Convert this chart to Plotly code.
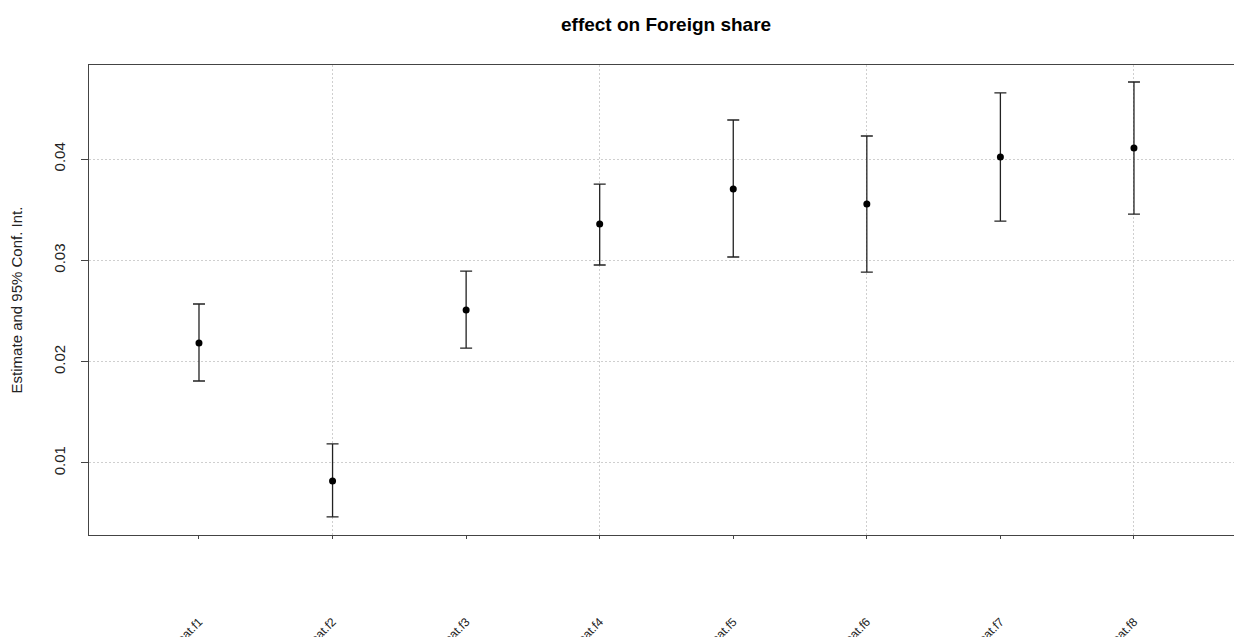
import plotly.graph_objects as go

# ---- data ----
categories = ["treat.f1", "treat.f2", "treat.f3", "treat.f4",
              "treat.f5", "treat.f6", "treat.f7", "treat.f8"]
positions = [1, 2, 3, 4, 5, 6, 7, 8]
estimates = [0.02184, 0.00822, 0.02509, 0.03358, 0.03704, 0.03556, 0.04020, 0.04109]
upper_ci = [0.02569, 0.01188, 0.02894, 0.03753, 0.04385, 0.04227, 0.04652, 0.04760]
lower_ci = [0.01809, 0.00467, 0.02134, 0.02954, 0.03033, 0.02884, 0.03388, 0.03457]
y_ticks = [0.01, 0.02, 0.03, 0.04]
y_tick_labels = ["0.01", "0.02", "0.03", "0.04"]
grid_x = [2, 4, 6, 8]

err_plus = [u - e for u, e in zip(upper_ci, estimates)]
err_minus = [e - l for e, l in zip(estimates, lower_ci)]

FONT = "Liberation Sans, Arial, sans-serif"
GRID = "#cfcfcf"

fig = go.Figure()
fig.add_trace(go.Scatter(
    x=positions, y=estimates, mode="markers",
    marker=dict(color="black", size=7),
    error_y=dict(type="data", symmetric=False, array=err_plus, arrayminus=err_minus,
                 color="#222222", thickness=1.3, width=6),
    showlegend=False,
))
# invisible trace on secondary x axis (for top border & every-other vertical grid)
fig.add_trace(go.Scatter(x=positions, y=estimates, xaxis="x2", mode="markers",
                         marker=dict(opacity=0), showlegend=False, hoverinfo="skip"))

fig.update_layout(
    width=1234, height=637,
    margin=dict(l=89, r=0, t=65, b=102),
    paper_bgcolor="white", plot_bgcolor="white",
    font=dict(family=FONT, color="#222222"),
    title=dict(text="<b>effect on Foreign share</b>", x=0.504, xref="paper",
               y=1 - 24 / 637, yref="container", xanchor="center", yanchor="middle",
               font=dict(size=19, color="black", family=FONT)),
    xaxis=dict(
        range=[0.1765, 8.749], tickvals=positions, ticktext=categories,
        tickangle=-45, ticklabelstandoff=71, tickfont=dict(size=12),
        automargin=False,
        ticks="outside", ticklen=3, tickcolor="#444444",
        showline=True, linecolor="#444444", linewidth=1.3,
        showgrid=False, zeroline=False,
    ),
    xaxis2=dict(
        overlaying="x", side="top", range=[0.1765, 8.749], tickvals=grid_x,
        showticklabels=False, ticks="", showline=True, linecolor="#444444", linewidth=1.3,
        showgrid=True, gridcolor=GRID, griddash="2px,2px", gridwidth=1, zeroline=False,
        automargin=False,
    ),
    yaxis=dict(
        range=[0.00289, 0.04928], tickvals=y_ticks, ticktext=y_tick_labels,
        tickangle=-90, tickfont=dict(size=15), ticklabelstandoff=10,
        automargin=False,
        ticks="outside", ticklen=7, tickcolor="#444444",
        showline=True, linecolor="#444444", linewidth=1.3,
        showgrid=True, gridcolor=GRID, griddash="2px,2px", gridwidth=1, zeroline=False,
        title=dict(text="Estimate and 95% Conf. Int.", font=dict(size=15), standoff=24),
    ),
)

fig.write_html(
    "out.html",
    config={"displayModeBar": False},
    post_script="document.body.style.margin='0';document.body.style.overflow='hidden';",
)
